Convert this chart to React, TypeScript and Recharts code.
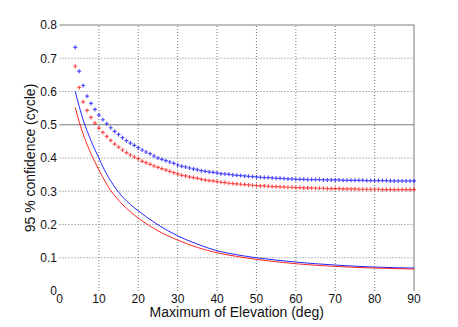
import React from "react";
import {
  ComposedChart, Line, Scatter, XAxis, YAxis, ReferenceLine,
} from "recharts";

// marker series: one value per degree of maximum elevation
const MARK_DEG = [
  4, 5, 6, 7, 8, 9, 10, 11, 12, 13, 14, 15, 16, 17, 18, 19, 20, 21, 22, 23,
  24, 25, 26, 27, 28, 29, 30, 31, 32, 33, 34, 35, 36, 37, 38, 39, 40, 41, 42, 43,
  44, 45, 46, 47, 48, 49, 50, 51, 52, 53, 54, 55, 56, 57, 58, 59, 60, 61, 62, 63,
  64, 65, 66, 67, 68, 69, 70, 71, 72, 73, 74, 75, 76, 77, 78, 79, 80, 81, 82, 83,
  84, 85, 86, 87, 88, 89, 90,
];
const BLUE_MARK = [
  0.733, 0.661, 0.618, 0.586, 0.564, 0.546, 0.529, 0.515, 0.503, 0.491, 0.480, 0.471, 0.461, 0.452, 0.445, 0.438, 0.431, 0.424, 0.418, 0.413,
  0.406, 0.400, 0.396, 0.392, 0.388, 0.384, 0.379, 0.375, 0.373, 0.370, 0.367, 0.365, 0.362, 0.360, 0.358, 0.357, 0.355, 0.353, 0.352, 0.351,
  0.349, 0.348, 0.347, 0.346, 0.345, 0.344, 0.343, 0.342, 0.341, 0.341, 0.340, 0.339, 0.339, 0.338, 0.337, 0.337, 0.336, 0.336, 0.336, 0.335,
  0.335, 0.335, 0.335, 0.334, 0.334, 0.334, 0.334, 0.334, 0.333, 0.333, 0.333, 0.333, 0.333, 0.333, 0.332, 0.332, 0.332, 0.332, 0.332, 0.332,
  0.331, 0.331, 0.331, 0.331, 0.331, 0.331, 0.331,
];
const RED_MARK = [
  0.676, 0.612, 0.569, 0.543, 0.522, 0.505, 0.490, 0.477, 0.465, 0.453, 0.442, 0.433, 0.424, 0.416, 0.409, 0.403, 0.398, 0.390, 0.386, 0.381,
  0.376, 0.372, 0.368, 0.364, 0.360, 0.356, 0.352, 0.348, 0.346, 0.343, 0.341, 0.339, 0.336, 0.334, 0.332, 0.331, 0.329, 0.327, 0.326, 0.324,
  0.323, 0.322, 0.321, 0.320, 0.319, 0.318, 0.317, 0.316, 0.316, 0.315, 0.314, 0.314, 0.313, 0.313, 0.312, 0.312, 0.311, 0.311, 0.310, 0.310,
  0.310, 0.309, 0.309, 0.309, 0.308, 0.308, 0.308, 0.308, 0.307, 0.307, 0.307, 0.307, 0.306, 0.306, 0.306, 0.306, 0.306, 0.306, 0.305, 0.305,
  0.305, 0.305, 0.305, 0.305, 0.305, 0.305, 0.305,
];

// solid curves, read at these degrees
const LINE_DEG = [4, 5, 6, 7, 8, 9, 10, 11, 12, 13, 14, 15, 16, 17, 18, 19, 20, 25, 30, 35, 40, 45, 50, 55, 60, 70, 80, 90];
const BLUE_LINE = [0.600, 0.555, 0.515, 0.482, 0.452, 0.425, 0.400, 0.374, 0.351, 0.331, 0.313, 0.297, 0.283, 0.271, 0.260, 0.250, 0.241, 0.199, 0.166, 0.141, 0.121, 0.109, 0.100, 0.093, 0.087, 0.078, 0.072, 0.069];
const RED_LINE = [0.552, 0.508, 0.472, 0.441, 0.413, 0.388, 0.364, 0.342, 0.321, 0.302, 0.287, 0.273, 0.260, 0.249, 0.238, 0.228, 0.219, 0.181, 0.153, 0.131, 0.115, 0.104, 0.095, 0.088, 0.082, 0.074, 0.069, 0.066];

const X_TICKS = [0, 10, 20, 30, 40, 50, 60, 70, 80, 90];
const Y_TICKS = [0, 0.1, 0.2, 0.3, 0.4, 0.5, 0.6, 0.7, 0.8];
const X_GRID = [10, 20, 30, 40, 50, 60, 70, 80];
const Y_GRID = [0.1, 0.2, 0.3, 0.4, 0.6, 0.7];

const FONT = "Liberation Sans, Arial, sans-serif";
const GRID = "#7a7a7a";

const pts = (xs: number[], ys: number[]) => xs.map((x, i) => ({ x, y: ys[i] }));

const Plus = (color: string) => (props: any) => {
  const { cx, cy } = props;
  if (cx == null || cy == null) return null;
  return (
    <path
      d={`M${cx - 2},${cy}H${cx + 2}M${cx},${cy - 2}V${cy + 2}`}
      stroke={color}
      strokeWidth={1.2}
      strokeOpacity={0.7}
      fill="none"
    />
  );
};

export default function App() {
  return (
    <div style={{ position: "absolute", left: 0, top: 0, background: "#fff" }}>
      <ComposedChart width={458} height={327} margin={{ top: 25, right: 44, bottom: 0, left: 0 }}>
        <XAxis
          type="number"
          dataKey="x"
          domain={[0, 90]}
          ticks={X_TICKS}
          interval={0}
          tickLine={false}
          axisLine={false}
          tickSize={0}
          tickMargin={3}
          height={36}
          tick={{ fontSize: 12, fontFamily: FONT, fill: "#111" }}
          label={{ value: "Maximum of Elevation (deg)", position: "insideBottom", offset: 10, fontSize: 14, fontFamily: FONT, fill: "#111" }}
        />
        <YAxis
          type="number"
          dataKey="y"
          domain={[0, 0.8]}
          ticks={Y_TICKS}
          interval={0}
          tickLine={false}
          axisLine={false}
          tickSize={0}
          tickMargin={2.5}
          width={59.5}
          tickFormatter={(v: number) => (v === 0 ? "0" : String(v))}
          tick={{ fontSize: 12, fontFamily: FONT, fill: "#111" }}
          label={{ value: "95 % confidence (cycle)", angle: -90, position: "insideLeft", offset: 30, fontSize: 14, fontFamily: FONT, fill: "#111", style: { textAnchor: "middle" } }}
        />

        {X_GRID.map((x) => (
          <ReferenceLine key={"gx" + x} x={x} stroke={GRID} strokeDasharray="1 2" />
        ))}
        {Y_GRID.map((y) => (
          <ReferenceLine key={"gy" + y} y={y} stroke={GRID} strokeDasharray="1 2" />
        ))}
        <ReferenceLine y={0.5} stroke={GRID} />
        <ReferenceLine y={0.8} stroke={GRID} />
        <ReferenceLine x={90} stroke={GRID} />

        <Line data={pts(LINE_DEG, BLUE_LINE)} dataKey="y" type="monotone" stroke="#0000ff" strokeWidth={1} strokeOpacity={0.85} dot={false} isAnimationActive={false} />
        <Line data={pts(LINE_DEG, RED_LINE)} dataKey="y" type="monotone" stroke="#ff0000" strokeWidth={1} strokeOpacity={0.85} dot={false} isAnimationActive={false} />
        <Scatter data={pts(MARK_DEG, BLUE_MARK)} dataKey="y" shape={Plus("#0000ff")} isAnimationActive={false} />
        <Scatter data={pts(MARK_DEG, RED_MARK)} dataKey="y" shape={Plus("#ff0000")} isAnimationActive={false} />
      </ComposedChart>
    </div>
  );
}
